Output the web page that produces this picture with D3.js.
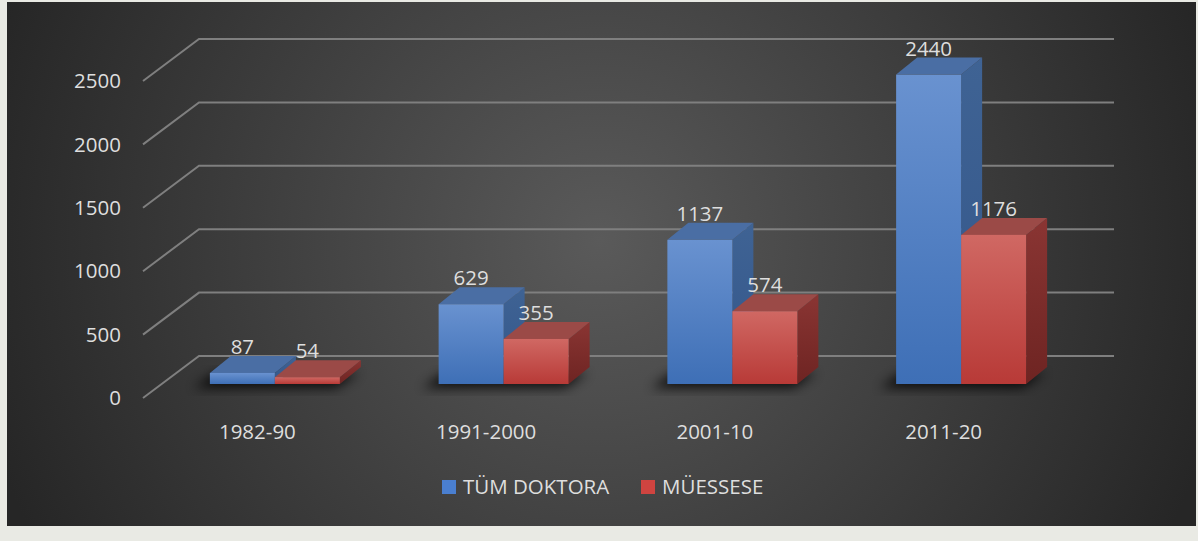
<!DOCTYPE html>
<html><head><meta charset="utf-8">
<script src="https://cdn.jsdelivr.net/npm/d3@7"></script>
<style>html,body{margin:0;padding:0;background:#e9eae4;}svg{display:block;}</style>
</head><body>
<svg id="c" width="1198" height="541"></svg>
<script>
const categories = ["1982-90", "1991-2000", "2001-10", "2011-20"];
const seriesNames = ["TÜM DOKTORA", "MÜESSESE"];
const tumDoktora = [87, 629, 1137, 2440];
const muessese = [54, 355, 574, 1176];
const yTicks = [0, 500, 1000, 1500, 2000, 2500];

const svg = d3.select("#c");
const defs = svg.append("defs");
const font = "'Open Sans', sans-serif";
const textColor = "#dedede";
const fs = 20.5;

// background
const rg = defs.append("radialGradient").attr("id","bg").attr("gradientUnits","userSpaceOnUse")
  .attr("cx",600).attr("cy",240).attr("r",640);
rg.append("stop").attr("offset","0").attr("stop-color","#5a5a5a");
rg.append("stop").attr("offset","1").attr("stop-color","#262626");
svg.append("rect").attr("x",7).attr("y",2).attr("width",1189).attr("height",524).attr("fill","url(#bg)");

function lin(id, c1, c2){
  const g = defs.append("linearGradient").attr("id",id).attr("x1",0).attr("y1",0).attr("x2",0).attr("y2",1);
  g.append("stop").attr("offset","0").attr("stop-color",c1);
  g.append("stop").attr("offset","1").attr("stop-color",c2);
}
lin("bFront","#6992d0","#3e6fb6");
lin("rFront","#d06863","#b83a37");
lin("bSide","#3f6394","#33568a");
lin("rSide","#8a3533","#6e2422");
const blur = defs.append("filter").attr("id","sh").attr("x","-50%").attr("y","-50%").attr("width","200%").attr("height","200%");
blur.append("feGaussianBlur").attr("stdDeviation",6);

// geometry
const wallDX = 56, wallDY = -42;
const x = d3.scaleBand().domain(categories).range([143, 1058]).paddingInner(0).paddingOuter(0);
const y = d3.scaleLinear().domain([0, 2500]).range([398, 81]);
const sub = d3.scaleBand().domain(seriesNames).range([0, 130]);
const barOffX = 17.5, barOffY = -14;   // bar front plane behind floor front
const depthX = 21, depthY = -17;       // bar depth
const groupW = 130;

// gridlines (floor diagonal + back wall)
const grid = svg.append("g").attr("stroke","#7f7f7f").attr("stroke-width",2).attr("fill","none");
yTicks.forEach(t => {
  const fy = y(t);
  grid.append("path").attr("d", `M${x.range()[0]},${fy}L${x.range()[0]+wallDX},${fy+wallDY}L${x.range()[1]+wallDX},${fy+wallDY}`);
});

// y-axis labels
svg.append("g").selectAll("text").data(yTicks).join("text")
  .attr("x",121).attr("y",d=>y(d)).attr("dy","0.35em").attr("text-anchor","end")
  .attr("font-family",font).attr("font-size",fs).attr("fill",textColor).text(d=>d);

// bars
const series = [
  {name: seriesNames[0], values: tumDoktora, front:"url(#bFront)", side:"url(#bSide)", top:"#4a6ea4"},
  {name: seriesNames[1], values: muessese, front:"url(#rFront)", side:"url(#rSide)", top:"#9b4a47"}
];
const gBars = svg.append("g");
// shadows
categories.forEach((c,i) => {
  const x0 = x(c) + x.bandwidth()/2 - groupW/2 + barOffX;
  const yb = y(0) + barOffY;
  gBars.append("path").attr("filter","url(#sh)").attr("fill","#000").attr("opacity",0.8)
    .attr("d", `M${x0-16},${yb+4}L${x0+groupW-4},${yb+4}L${x0+groupW+depthX-2},${yb+depthY+6}L${x0+depthX-16},${yb+depthY+6}Z`);
});
const labels = [];
categories.forEach((c,i) => {
  series.forEach(s => {
    const v = s.values[i];
    const x0 = x(c) + x.bandwidth()/2 - groupW/2 + barOffX + sub(s.name);
    const w = sub.bandwidth();
    const yb = y(0) + barOffY;
    const yt = y(v) + barOffY;
    const g = gBars.append("g");
    g.append("path").attr("fill",s.side)
      .attr("d",`M${x0+w},${yt}L${x0+w+depthX},${yt+depthY}L${x0+w+depthX},${yb+depthY}L${x0+w},${yb}Z`);
    g.append("path").attr("fill",s.top)
      .attr("d",`M${x0},${yt}L${x0+depthX},${yt+depthY}L${x0+w+depthX},${yt+depthY}L${x0+w},${yt}Z`);
    g.append("rect").attr("x",x0).attr("y",yt).attr("width",w).attr("height",Math.max(0,yb-yt)).attr("fill",s.front);
    labels.push({x: x0 + w/2, y: yt + depthY - 2, v});
  });
});
svg.append("g").selectAll("text").data(labels).join("text")
  .attr("x",d=>d.x).attr("y",d=>d.y).attr("text-anchor","middle")
  .attr("font-family",font).attr("font-size",fs).attr("fill",textColor).text(d=>d.v);

// category labels
svg.append("g").selectAll("text").data(categories).join("text")
  .attr("x",d=>x(d)+x.bandwidth()/2).attr("y",432).attr("dy","0.35em").attr("text-anchor","middle")
  .attr("font-family",font).attr("font-size",fs).attr("fill",textColor).text(d=>d);

// legend
const leg = svg.append("g");
const legItems = [{name:seriesNames[0], c:"#4a7fd0", x:442},{name:seriesNames[1], c:"#cf4440", x:641}];
legItems.forEach(it => {
  leg.append("rect").attr("x",it.x).attr("y",480).attr("width",14).attr("height",14).attr("fill",it.c);
  leg.append("text").attr("x",it.x+21).attr("y",494).attr("font-family",font).attr("font-size",fs)
    .attr("fill",textColor).text(it.name);
});
</script>
</body></html>
